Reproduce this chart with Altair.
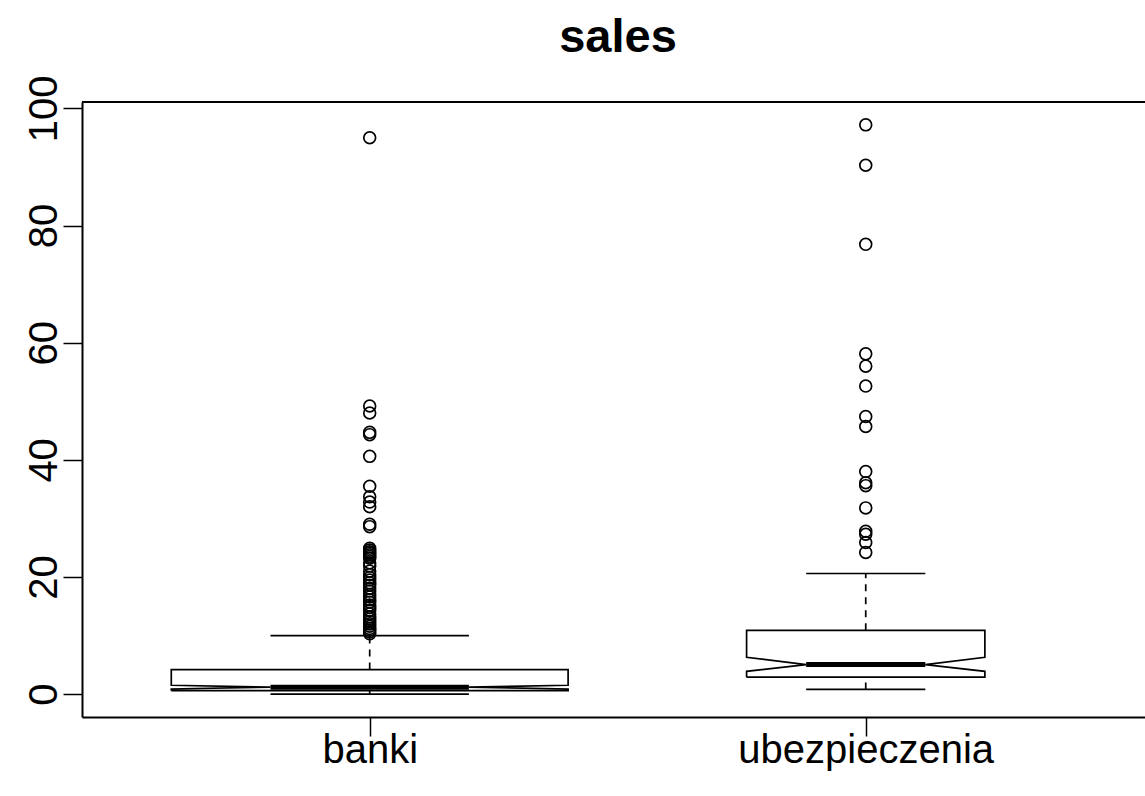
import altair as alt
import pandas as pd
import numpy as np

# Groups and their box statistics (notched boxplot of sales)
groups = ["banki", "ubezpieczenia"]
positions = [1, 2]
counts = [294, 106]
whisker_low = [0.02, 0.8]
lower_hinge = [0.6, 2.9]
notch_low = [0.88, 3.9]
medians = [1.2, 5.05]
notch_high = [1.52, 6.3]
upper_hinge = [4.2, 10.9]
whisker_high = [10.0, 20.6]

# Points beyond the whiskers
outliers_banki = [
    10.3, 10.6, 10.9, 11.2, 11.6, 12.0, 12.4, 12.8, 13.2, 13.7, 14.3, 14.8,
    15.2, 15.7, 16.1, 16.6, 17.0, 17.6, 18.1, 18.6, 19.0, 19.5, 19.9, 20.4,
    21.0, 21.9, 22.4, 23.2, 23.5, 23.8, 24.1, 24.3, 24.6, 24.9,
    28.6, 29.0, 32.0, 32.8, 33.7, 35.5, 40.6, 44.3, 44.7, 48.0, 49.2, 95.0,
]
outliers_ubezpieczenia = [
    24.2, 25.9, 27.3, 27.8, 31.8, 35.6, 36.1, 38.0, 45.7, 47.4, 52.6,
    56.0, 58.1, 76.8, 90.3, 97.2,
]

y_ticks = [0, 20, 40, 60, 80, 100]

W, H = 1063, 615
FONT = "Liberation Sans"
BOXWEX = 0.8
LW = 1.7

# Box half-widths scale with sqrt(n) (variable-width boxes)
max_n = max(counts)
half_w = [BOXWEX / 2 * np.sqrt(n / max_n) for n in counts]

# Notched outline, one closed polygon per group
poly_rows = []
for g, c, w, q1, nlo, med, nhi, q3 in zip(groups, positions, half_w, lower_hinge,
                                          notch_low, medians, notch_high, upper_hinge):
    pts = [
        (c - w, q1), (c - w, nlo), (c - w / 2, med), (c - w, nhi), (c - w, q3),
        (c + w, q3), (c + w, nhi), (c + w / 2, med), (c + w, nlo), (c + w, q1),
        (c - w, q1),
    ]
    for k, (px, py) in enumerate(pts):
        poly_rows.append({"group": g, "k": k, "x": px, "y": py})
poly = pd.DataFrame(poly_rows)

stats = pd.DataFrame({
    "group": groups,
    "pos": positions,
    "lo": whisker_low,
    "q1": lower_hinge,
    "med": medians,
    "q3": upper_hinge,
    "hi": whisker_high,
    "inner_l": [p - w / 2 for p, w in zip(positions, half_w)],
    "inner_r": [p + w / 2 for p, w in zip(positions, half_w)],
})

out = pd.DataFrame({
    "pos": [1] * len(outliers_banki) + [2] * len(outliers_ubezpieczenia),
    "value": outliers_banki + outliers_ubezpieczenia,
})

label_expr = " : ".join(
    [f"datum.value == {p} ? '{g}'" for p, g in zip(positions, groups)] + ["''"]
)

xscale = alt.Scale(domain=[0.42, 2.563], nice=False, zero=False)
yscale = alt.Scale(domain=[-3.9, 101.1], nice=False, zero=False)

xaxis = alt.Axis(
    values=positions, labelExpr=label_expr, title=None, grid=False,
    labelFont=FONT, labelFontSize=40, labelColor="black", labelBaseline="alphabetic",
    labelPadding=26, labelLimit=0, tickSize=19, tickWidth=1.5, tickColor="black",
    domainColor="black", domainWidth=2, labelAngle=0,
)
yaxis = alt.Axis(
    values=y_ticks, title=None, grid=False,
    labelFont=FONT, labelFontSize=40, labelColor="black", labelAngle=270,
    labelAlign="center", labelBaseline="alphabetic", labelPadding=7, labelLimit=0,
    tickSize=19, tickWidth=1.5, tickColor="black",
    domainColor="black", domainWidth=2,
)

outline = alt.Chart(poly).mark_line(color="black", strokeWidth=LW).encode(
    x=alt.X("x:Q", scale=xscale, axis=xaxis),
    y=alt.Y("y:Q", scale=yscale, axis=yaxis),
    detail="group:N",
    order="k:Q",
)

median_bar = alt.Chart(stats).mark_rule(color="black", strokeWidth=5).encode(
    x=alt.X("inner_l:Q", scale=xscale), x2="inner_r:Q",
    y=alt.Y("med:Q", scale=yscale),
)

dash = [7, 6]
stem_up = alt.Chart(stats).mark_rule(color="black", strokeWidth=LW, strokeDash=dash).encode(
    x=alt.X("pos:Q", scale=xscale), y=alt.Y("q3:Q", scale=yscale), y2="hi:Q",
)
stem_down = alt.Chart(stats).mark_rule(color="black", strokeWidth=LW, strokeDash=dash).encode(
    x=alt.X("pos:Q", scale=xscale), y=alt.Y("lo:Q", scale=yscale), y2="q1:Q",
)
staple_hi = alt.Chart(stats).mark_rule(color="black", strokeWidth=LW).encode(
    x=alt.X("inner_l:Q", scale=xscale), x2="inner_r:Q", y=alt.Y("hi:Q", scale=yscale),
)
staple_lo = alt.Chart(stats).mark_rule(color="black", strokeWidth=LW).encode(
    x=alt.X("inner_l:Q", scale=xscale), x2="inner_r:Q", y=alt.Y("lo:Q", scale=yscale),
)

points = alt.Chart(out).mark_point(
    shape="circle", filled=False, size=140, color="black", strokeWidth=LW, opacity=1
).encode(
    x=alt.X("pos:Q", scale=xscale), y=alt.Y("value:Q", scale=yscale),
)

# Top edge of the plot frame
top_edge = alt.Chart(stats).mark_rule(color="black", strokeWidth=2).encode(
    x=alt.value(0), x2=alt.value(W), y=alt.value(0),
)

chart = alt.layer(
    outline, median_bar, stem_up, stem_down, staple_hi, staple_lo, points, top_edge
).properties(
    width=W, height=H,
    title=alt.TitleParams(
        "sales", font=FONT, fontSize=47, fontWeight="bold", color="black",
        anchor="middle", baseline="alphabetic", offset=-24, dx=4.5,
    ),
    autosize=alt.AutoSizeParams(type="none"),
    padding={"left": 82, "top": 102, "right": 0, "bottom": 79},
).configure_view(stroke=None).configure(background="white")

chart.save("out.html", embed_options={"renderer": "svg", "actions": False})
